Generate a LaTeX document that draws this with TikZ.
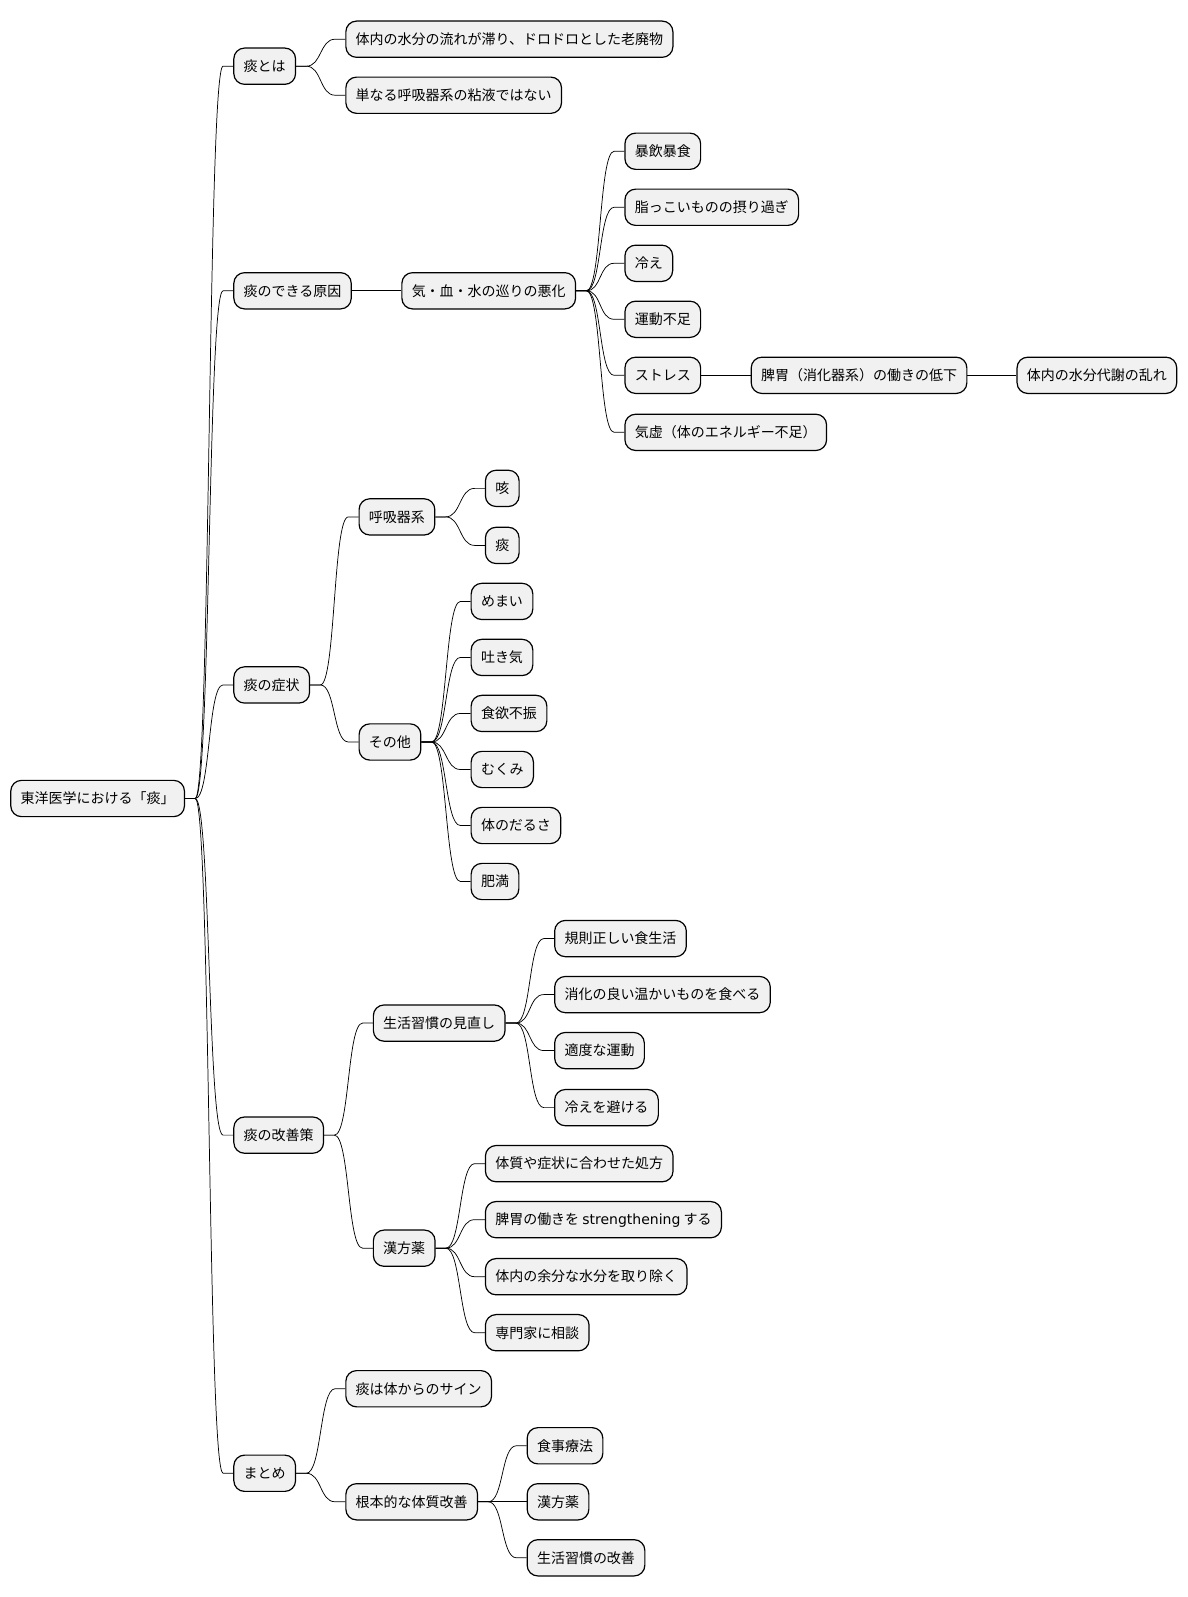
\documentclass[tikz,border=0pt]{standalone}
\usepackage{fontspec}
\setmainfont{Noto Sans CJK JP}
\newfontfamily\latfont{DejaVu Sans}
\usetikzlibrary{calc}
\definecolor{boxfill}{HTML}{F1F1F1}
\tikzset{
  mbox/.style={draw=black, line width=0.9pt, fill=boxfill, rounded corners=8pt,
    anchor=west, minimum height=27.2pt, inner xsep=7.4pt, inner ysep=0pt,
    font=\fontsize{10.5pt}{12pt}\selectfont, text=black},
  link/.style={draw=black, line width=0.55pt,
    to path={-- ++(10,0) .. controls +(15,0) and +(-15,0) .. ($(\tikztotarget)+(-10,0)$) -- (\tikztotarget)}}
}
\begin{document}
\begin{tikzpicture}[x=0.7642pt, y=-0.7642pt]
\useasboundingbox (0,0) rectangle (1166,1568);
% root
\node[mbox] (root) at (10,784) {東洋医学における「痰」};
% level 1
\node[mbox] (a) at (229,65) {痰とは};
\node[mbox] (b) at (229,285.5) {痰のできる原因};
\node[mbox] (c) at (229,672.5) {痰の症状};
\node[mbox] (d) at (229,1114.5) {痰の改善策};
\node[mbox] (e) at (229,1446.5) {まとめ};
% a
\node[mbox] (a1) at (339,38.5) {体内の水分の流れが滞り、ドロドロとした老廃物};
\node[mbox] (a2) at (339,93.5) {単なる呼吸器系の粘液ではない};
% b
\node[mbox] (b1) at (394,285.5) {気・血・水の巡りの悪化};
\node[mbox] (b11) at (613,148.5) {暴飲暴食};
\node[mbox] (b12) at (613,203.5) {脂っこいものの摂り過ぎ};
\node[mbox] (b13) at (613,258.5) {冷え};
\node[mbox] (b14) at (613,313.5) {運動不足};
\node[mbox] (b15) at (613,368.5) {ストレス};
\node[mbox] (b16) at (613,424.5) {気虚（体のエネルギー不足）};
\node[mbox] (b151) at (737,368.5) {脾胃（消化器系）の働きの低下};
\node[mbox] (b1511) at (998,368.5) {体内の水分代謝の乱れ};
% c
\node[mbox] (c1) at (352,507.5) {呼吸器系};
\node[mbox] (c11) at (476,479.5) {咳};
\node[mbox] (c12) at (476,535.5) {痰};
\node[mbox] (c2) at (352,728.5) {その他};
\node[mbox] (c21) at (462,590.5) {めまい};
\node[mbox] (c22) at (462,645.5) {吐き気};
\node[mbox] (c23) at (462,700.5) {食欲不振};
\node[mbox] (c24) at (462,755.5) {むくみ};
\node[mbox] (c25) at (462,810.5) {体のだるさ};
\node[mbox] (c26) at (462,865.5) {肥満};
% d
\node[mbox] (d1) at (366,1004.5) {生活習慣の見直し};
\node[mbox] (d11) at (544,921.5) {規則正しい食生活};
\node[mbox] (d12) at (544,976.5) {消化の良い温かいものを食べる};
\node[mbox] (d13) at (544,1031.5) {適度な運動};
\node[mbox] (d14) at (544,1087.5) {冷えを避ける};
\node[mbox] (d2) at (366,1225.5) {漢方薬};
\node[mbox] (d21) at (476,1142.5) {体質や症状に合わせた処方};
\node[mbox] (d22) at (476,1197.5) {脾胃の働きを {\latfont strengthening} する};
\node[mbox] (d23) at (476,1253.5) {体内の余分な水分を取り除く};
\node[mbox] (d24) at (476,1308.5) {専門家に相談};
% e
\node[mbox] (e1) at (339,1363.5) {痰は体からのサイン};
\node[mbox] (e2) at (339,1474.5) {根本的な体質改善};
\node[mbox] (e21) at (517,1419.5) {食事療法};
\node[mbox] (e22) at (517,1474.5) {漢方薬};
\node[mbox] (e23) at (517,1529.5) {生活習慣の改善};
% links
\foreach \p/\c in {root/a,root/b,root/c,root/d,root/e,
  a/a1,a/a2,b/b1,b1/b11,b1/b12,b1/b13,b1/b14,b1/b15,b1/b16,b15/b151,b151/b1511,
  c/c1,c1/c11,c1/c12,c/c2,c2/c21,c2/c22,c2/c23,c2/c24,c2/c25,c2/c26,
  d/d1,d1/d11,d1/d12,d1/d13,d1/d14,d/d2,d2/d21,d2/d22,d2/d23,d2/d24,
  e/e1,e/e2,e2/e21,e2/e22,e2/e23}
  {\draw[link] (\p.east) to (\c.west);}
\end{tikzpicture}
\end{document}
